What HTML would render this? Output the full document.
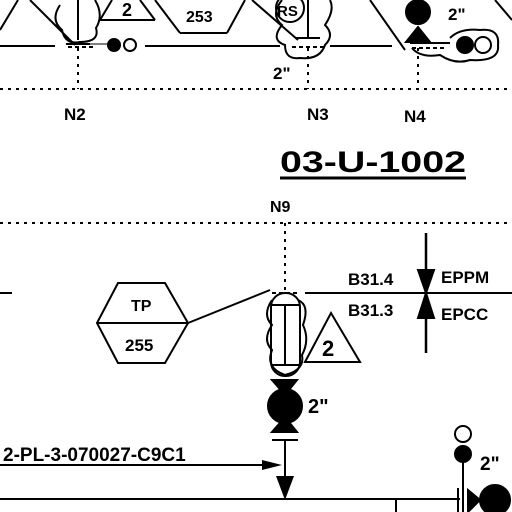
<!DOCTYPE html>
<html><head><meta charset="utf-8"><style>
html,body{margin:0;padding:0;background:#fff;}
svg{display:block;}
text{font-family:"Liberation Sans",sans-serif;font-weight:bold;fill:#000;}
</style></head><body>
<svg width="512" height="512" viewBox="0 0 512 512" stroke="#000" stroke-width="2" fill="none">
<g>
<line x1="0" y1="46" x2="55" y2="46"/><line x1="145" y1="46" x2="280" y2="46"/><line x1="330" y1="46" x2="392" y2="46"/>
<line x1="0" y1="30" x2="18" y2="0"/><line x1="30" y1="0" x2="75" y2="45"/>
<line x1="155" y1="0" x2="180" y2="33"/><line x1="180" y1="33" x2="227" y2="33"/><line x1="227" y1="33" x2="245" y2="0"/>
<line x1="252" y1="0" x2="298" y2="40"/><line x1="370" y1="0" x2="405" y2="50"/>
<line x1="100" y1="20" x2="155" y2="20"/><line x1="100" y1="20" x2="112" y2="0"/><line x1="140" y1="0" x2="155" y2="20"/>
<line x1="495" y1="0" x2="512" y2="20"/>
</g>
<g>
<path d="M60 5 Q50 20 62 30 Q65 45 80 42 Q100 42 96 28 Q104 15 95 0"/>
<line x1="78" y1="0" x2="78" y2="40"/>
<line x1="66" y1="44" x2="90" y2="44"/>
<line x1="68" y1="47" x2="95" y2="47" stroke-dasharray="4 3"/>
<line x1="90" y1="44" x2="110" y2="44" stroke-width="1"/>
<circle cx="114" cy="45" r="6" fill="#000"/><circle cx="130" cy="45" r="6"/>
<text x="122" y="16" font-size="18" stroke="none">2</text>
<text x="186" y="22" font-size="16" stroke="none">253</text>
</g>
<g>
<path d="M282 0 Q270 15 282 25 Q270 40 285 45 Q285 60 300 58 Q320 60 325 45 Q335 35 325 25 Q335 10 330 0"/>
<circle cx="290" cy="8" r="14"/>
<line x1="308" y1="0" x2="308" y2="38"/>
<line x1="295" y1="38" x2="320" y2="38"/>
<line x1="292" y1="47" x2="325" y2="47" stroke-dasharray="4 3"/>
<text x="277" y="16" font-size="15" stroke="none">RS</text>
<text x="273" y="79" font-size="17" stroke="none">2"</text>
</g>
<g>
<circle cx="418" cy="12" r="12" fill="#000"/>
<path d="M406 42 L418 27 L430 42 Z" fill="#000"/>
<line x1="410" y1="43" x2="450" y2="43"/>
<line x1="412" y1="48" x2="445" y2="48" stroke-dasharray="4 3"/>
<path d="M412 48 Q420 58 440 55 Q455 65 470 60 Q500 62 498 45 Q500 28 480 30 Q460 28 450 38"/>
<circle cx="465" cy="45" r="8" fill="#000"/><circle cx="483" cy="45" r="8"/>
<text x="448" y="20" font-size="17" stroke="none">2"</text>
</g>
<g stroke-dasharray="3 5">
<line x1="0" y1="89" x2="512" y2="89"/>
<line x1="78" y1="48" x2="78" y2="89"/>
<line x1="308" y1="48" x2="308" y2="89"/>
<line x1="418" y1="48" x2="418" y2="89"/>
</g>
<text x="64" y="120" font-size="17" stroke="none">N2</text>
<text x="307" y="120" font-size="17" stroke="none">N3</text>
<text x="404" y="122" font-size="17" stroke="none">N4</text>
<text x="280" y="172" font-size="30" stroke="none" textLength="186" lengthAdjust="spacingAndGlyphs">03-U-1002</text>
<line x1="280" y1="178" x2="466" y2="178" stroke-width="3"/>
<text x="270" y="212" font-size="16" stroke="none">N9</text>
<g stroke-dasharray="3 5">
<line x1="0" y1="223" x2="512" y2="223"/>
<line x1="285" y1="223" x2="285" y2="292"/>
</g>
<g>
<line x1="0" y1="293" x2="12" y2="293"/><line x1="305" y1="293" x2="512" y2="293"/>
<line x1="272" y1="293" x2="298" y2="293" stroke-dasharray="4 3"/>
</g>
<g>
<polygon points="97,323 118,283 165,283 188,323 165,363 118,363"/>
<line x1="97" y1="323" x2="188" y2="323"/>
<line x1="188" y1="323" x2="270" y2="290"/>
<text x="131" y="311" font-size="16" stroke="none">TP</text>
<text x="125" y="351" font-size="17" stroke="none">255</text>
</g>
<g>
<rect x="271" y="293" width="29" height="83" rx="14"/>
<line x1="271" y1="305" x2="300" y2="305"/><line x1="271" y1="365" x2="300" y2="365"/>
<line x1="285" y1="305" x2="285" y2="365"/>
<path d="M272 300 Q262 315 272 325 Q262 340 272 350 Q265 368 285 375 Q305 370 302 355 Q310 340 303 325 Q310 305 298 300"/>
<polygon points="305,362 331,313 360,362" fill="#fff"/>
<text x="322" y="356" font-size="22" stroke="none" font-weight="normal">2</text>
</g>
<g>
<polygon points="272,380 297,380 285,395" fill="#000"/>
<polygon points="272,432 297,432 285,417" fill="#000"/>
<circle cx="285" cy="406" r="17" fill="#000"/>
<text x="308" y="413" font-size="20" stroke="none">2"</text>
<line x1="272" y1="440" x2="298" y2="440"/>
<line x1="285" y1="440" x2="285" y2="478"/>
<polygon points="276,476 294,476 285,500" fill="#000" stroke="none"/>
</g>
<text x="3" y="461" font-size="19" stroke="none">2-PL-3-070027-C9C1</text>
<line x1="0" y1="465" x2="270" y2="465"/>
<polygon points="262,460 282,465 262,470" fill="#000" stroke="none"/>
<g>
<line x1="426" y1="233" x2="426" y2="353" stroke-width="2.5"/>
<polygon points="418,270 434,270 426,293" fill="#000"/>
<polygon points="418,318 434,318 426,293" fill="#000"/>
<text x="348" y="285" font-size="17" stroke="none">B31.4</text>
<text x="348" y="316" font-size="17" stroke="none">B31.3</text>
<text x="441" y="283" font-size="17" stroke="none">EPPM</text>
<text x="441" y="320" font-size="17" stroke="none">EPCC</text>
</g>
<g>
<line x1="0" y1="499" x2="460" y2="499"/>
<line x1="396" y1="499" x2="396" y2="512"/>
</g>
<g>
<circle cx="463" cy="434" r="8"/>
<circle cx="463" cy="454" r="8" fill="#000"/>
<line x1="463" y1="462" x2="463" y2="499"/>
<text x="480" y="470" font-size="19" stroke="none">2"</text>
<line x1="458" y1="488" x2="458" y2="512"/><line x1="463" y1="488" x2="463" y2="512"/>
<polygon points="468,490 480,500 468,512" fill="#000"/>
<circle cx="495" cy="500" r="15" fill="#000"/>
</g>
</svg>
</body></html>
